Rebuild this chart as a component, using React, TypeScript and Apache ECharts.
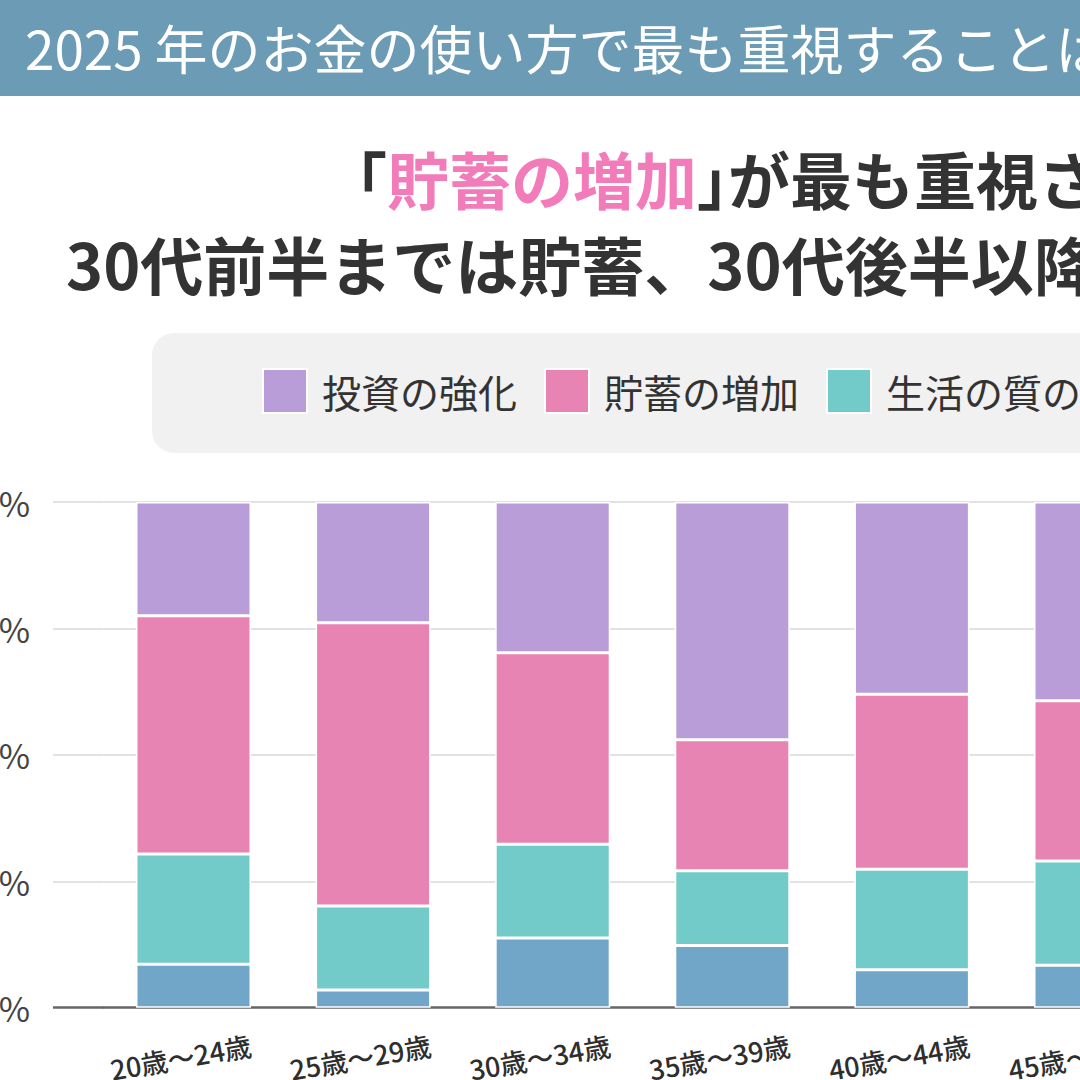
import React, { useEffect, useRef } from "react";
import * as echarts from "echarts";

const categories = ["20歳～24歳", "25歳～29歳", "30歳～34歳", "35歳～39歳", "40歳～44歳", "45歳～49歳"];
const seriesNames = ["投資の強化", "貯蓄の増加", "生活の質の向上", "その他"];
const investment = [22.5, 23.9, 29.8, 47.0, 38.0, 39.3];
const savings = [47.1, 56.0, 37.9, 25.9, 34.6, 31.7];
const quality = [21.8, 16.6, 18.5, 14.8, 19.9, 20.6];
const other = [8.6, 3.5, 13.8, 12.3, 7.5, 8.4];
const yTicks = [0, 25, 50, 75, 100];
const headerTitle = "2025 年のお金の使い方で最も重視することは";
const subtitleHighlight = "貯蓄の増加";
const subtitleRest = "が最も重視さ";
const subtitleLine2 = "30代前半までは貯蓄、30代後半以降";

const FONT = "'Noto Sans CJK JP', 'Noto Sans', sans-serif";
const COLORS = {
  investment: "#b89dd8",
  savings: "#e784b4",
  quality: "#72cbc9",
  other: "#71a6c8",
};

export default function App() {
  const ref = useRef<HTMLDivElement>(null);
  useEffect(() => {
    const chart = echarts.init(ref.current as HTMLDivElement, null, { renderer: "svg" });
    const barBase = {
      type: "bar",
      stack: "total",
      barWidth: 115,
      itemStyle: { borderColor: "#ffffff", borderWidth: 1.5 },
      emphasis: { disabled: true },
    };
    const titleFont = `700 62px ${FONT}`;
    const option: any = {
      animation: false,
      backgroundColor: "#ffffff",
      textStyle: { fontFamily: FONT },
      graphic: [
        {
          type: "rect",
          shape: { x: 0, y: 0, width: 1080, height: 96 },
          style: { fill: "#6b9bb5" },
          silent: true,
        },
        {
          type: "text",
          x: 25,
          y: 47,
          style: {
            text: headerTitle,
            fill: "#ffffff",
            font: `400 53px ${FONT}`,
            textVerticalAlign: "middle",
          },
          silent: true,
        },
        {
          type: "text",
          x: 356,
          y: 178,
          style: {
            text: `｢{p|${subtitleHighlight}}｣${subtitleRest}`,
            fill: "#333333",
            font: titleFont,
            textVerticalAlign: "middle",
            rich: {
              p: { fill: "#f27cb9", fontSize: 62, fontWeight: 700, fontFamily: FONT },
            },
          },
          silent: true,
        },
        {
          type: "text",
          x: 66,
          y: 262,
          style: {
            text: subtitleLine2,
            fill: "#333333",
            font: `700 63px ${FONT}`,
            textVerticalAlign: "middle",
          },
          silent: true,
        },
      ],
      legend: {
        data: seriesNames.slice(0, 3),
        left: 152,
        top: 333,
        width: 1600,
        padding: [35, 60, 39, 110],
        backgroundColor: "#f1f1f1",
        borderRadius: 22,
        itemWidth: 44,
        itemHeight: 44,
        itemGap: 27,
        icon: "rect",
        selectedMode: false,
        textStyle: { fontSize: 39, color: "#333333", fontFamily: FONT, padding: [0, 0, 0, 10] },
      },
      grid: {
        left: 103.7,
        top: 502,
        width: 1077.6,
        height: 505.7,
        containLabel: false,
        outerBoundsMode: "none",
      },
      xAxis: {
        type: "category",
        data: categories,
        axisLine: { show: true, lineStyle: { color: "#666666", width: 2.5 } },
        axisTick: { show: false },
        axisLabel: {
          rotate: 10,
          align: "center",
          verticalAlign: "middle",
          margin: 47,
          fontSize: 27,
          fontWeight: 500,
          color: "#2e2e2e",
          fontFamily: FONT,
          interval: 0,
          padding: [0, 26, 0, 0],
        },
      },
      yAxis: [
        {
          type: "value",
          min: yTicks[0],
          max: yTicks[yTicks.length - 1],
          interval: 25,
          axisLine: { show: false },
          axisTick: {
            show: true,
            length: 50.7,
            customValues: yTicks.slice(1),
            lineStyle: { color: "#e2e2e2", width: 2 },
          },
          axisLabel: {
            formatter: "{value}%",
            fontSize: 34,
            color: "#444444",
            margin: 73.7,
            fontFamily: FONT,
          },
          splitLine: { show: true, lineStyle: { color: "#e2e2e2", width: 2 } },
        },
        {
          type: "value",
          min: yTicks[0],
          max: yTicks[yTicks.length - 1],
          interval: 25,
          position: "left",
          axisLine: { show: false },
          axisLabel: { show: false },
          splitLine: { show: false },
          axisTick: {
            show: true,
            length: 50.7,
            customValues: [yTicks[0]],
            lineStyle: { color: "#666666", width: 2.5 },
          },
        },
      ],
      series: [
        { ...barBase, name: seriesNames[3], data: other, itemStyle: { ...barBase.itemStyle, color: COLORS.other } },
        { ...barBase, name: seriesNames[2], data: quality, itemStyle: { ...barBase.itemStyle, color: COLORS.quality } },
        { ...barBase, name: seriesNames[1], data: savings, itemStyle: { ...barBase.itemStyle, color: COLORS.savings } },
        { ...barBase, name: seriesNames[0], data: investment, itemStyle: { ...barBase.itemStyle, color: COLORS.investment } },
      ],
    };
    chart.setOption(option);
    return () => chart.dispose();
  }, []);
  return (
    <div
      ref={ref}
      style={{ position: "fixed", left: 0, top: 0, width: 1080, height: 1080, background: "#ffffff" }}
    />
  );
}
